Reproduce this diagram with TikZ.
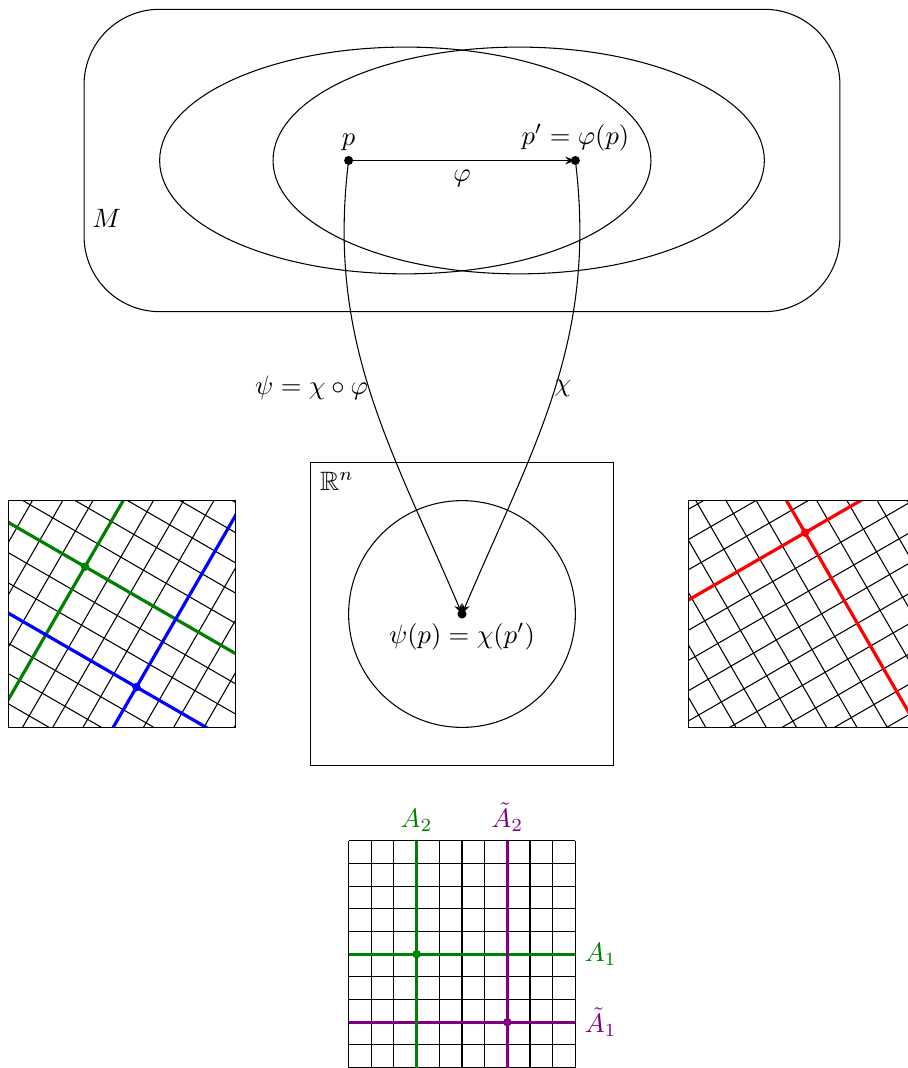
\documentclass[tikz,border=0pt]{standalone}
\usepackage{amssymb}
\usetikzlibrary{arrows.meta}
\definecolor{cgreen}{RGB}{0,128,0}
\definecolor{cpurple}{RGB}{128,0,128}
\begin{document}
\begin{tikzpicture}[
  dot/.style={circle,fill,inner sep=0pt,minimum size=3.4pt},
  cdot/.style={circle,fill,inner sep=0pt,minimum size=3.2pt},
  chart/.style={line width=1.2pt},
  thinline/.style={line width=0.4pt},
  arr/.style={-{Stealth[length=3.8pt,width=2.9pt]}}
]
\clip (-6.112,-6.006) rectangle (5.900,8.123);

% ---- manifold M ----
\draw[rounded corners=1cm] (-5,4) rectangle (5,8);
\node (M) at (-4.70,5.24) {$M$};
\draw (-0.75,6) ellipse (3.25 and 1.5);
\draw (0.75,6) ellipse (3.25 and 1.5);

\coordinate (p) at (-1.5,6);
\coordinate (pp) at (1.5,6);
\coordinate (q) at (0,0);

% ---- R^n ----
\draw (-2,-2) rectangle (2,2);
\node[anchor=north west] (Rn) at (-2,2) {$\mathbb{R}^n$};
\draw (0,0) circle (1.5);

% ---- connectors ----
\draw[arr] (p) -- node[below] (philbl) {$\varphi$} (pp);
\draw[arr] (p) to[out=-97,in=113] (q);
\draw[arr] (pp) to[out=-83,in=67] (q);
\node (psilbl) at (-1.99,2.99) {$\psi = \chi\circ\varphi$};
\node (chilbl) at (1.336,2.99) {$\chi$};

\node[dot] (pdot) at (p) {};
\node[dot] (ppdot) at (pp) {};
\node[dot] (qdot) at (q) {};
\node[above] (plbl) at (p) {$p$};
\node[above] (pplbl) at (pp) {$p' = \varphi(p)$};
\node[below] (qlbl) at (q) {$\psi(p) = \chi(p')$};

% ---- left chart grid ----
\begin{scope}
  \clip (-6,-1.5) rectangle (-3,1.5);
  \begin{scope}[shift={(-4.987,0.626)}, rotate=-30]
    \foreach \i in {-14,...,14} {
      \draw[thinline] ({\i*0.34641},-5) -- ({\i*0.34641},5);
      \draw[thinline] (-5,{\i*0.34641}) -- (5,{\i*0.34641});
    }
    \draw[cgreen,chart] (-5,0) -- (5,0);
    \draw[cgreen,chart] (0,-5) -- (0,5);
    \draw[blue,chart] (-5,-1.03923) -- (5,-1.03923);
    \draw[blue,chart] (1.38564,-5) -- (1.38564,5);
    \node[cdot,cgreen] (gdot) at (0,0) {};
    \node[cdot,blue] (bdot) at (1.38564,-1.03923) {};
  \end{scope}
\end{scope}
\draw (-6,-1.5) rectangle (-3,1.5);

% ---- right chart grid ----
\begin{scope}
  \clip (3,-1.5) rectangle (6,1.5);
  \begin{scope}[shift={(4.538,1.076)}, rotate=30]
    \foreach \i in {-14,...,14} {
      \draw[thinline] ({\i*0.34641},-5) -- ({\i*0.34641},5);
      \draw[thinline] (-5,{\i*0.34641}) -- (5,{\i*0.34641});
    }
    \draw[red,chart] (-5,0) -- (5,0);
    \draw[red,chart] (0,-5) -- (0,5);
    \node[cdot,red] (rdot) at (0,0) {};
  \end{scope}
\end{scope}
\draw (3,-1.5) rectangle (6,1.5);

% ---- bottom coordinate grid ----
\foreach \i in {0,...,10} {
  \draw[thinline] ({-1.5+0.3*\i},-6) -- ({-1.5+0.3*\i},-3);
  \draw[thinline] (-1.5,{-6+0.3*\i}) -- (1.5,{-6+0.3*\i});
}
\draw[cgreen,chart] (-1.5,-4.5) -- (1.5,-4.5);
\draw[cpurple,chart] (-1.5,-5.4) -- (1.5,-5.4);
\draw[cgreen,chart] (-0.6,-6) -- (-0.6,-3);
\draw[cpurple,chart] (0.6,-6) -- (0.6,-3);
\node[cdot,cgreen] (adot) at (-0.6,-4.5) {};
\node[cdot,cpurple] (atdot) at (0.6,-5.4) {};
\node[above,text=cgreen] (A2) at (-0.6,-3) {$A_2$};
\node[above,text=cpurple] (At2) at (0.6,-3) {$\tilde{A}_2$};
\node[right,text=cgreen] (A1) at (1.5,-4.5) {$A_1$};
\node[right,text=cpurple] (At1) at (1.5,-5.4) {$\tilde{A}_1$};
\end{tikzpicture}
\end{document}
